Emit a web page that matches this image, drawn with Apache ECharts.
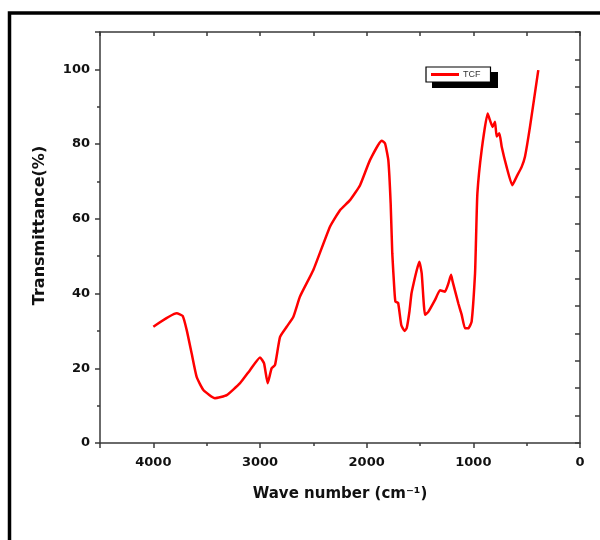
<!DOCTYPE html>
<html>
<head>
<meta charset="utf-8">
<script src="https://cdn.jsdelivr.net/npm/echarts@6/dist/echarts.min.js"></script>
<style>
  html, body { margin: 0; padding: 0; background: #ffffff; }
  #chart { width: 600px; height: 540px; }
</style>
</head>
<body>
<div id="chart"></div>
<script>
// FTIR spectrum of TCF: wave number (cm-1) vs transmittance (%)
const wavenumbers = [
  4000, 3781, 3725, 3687, 3641, 3594, 3531, 3422, 3312, 3187,
  3094, 3000, 2962, 2928, 2891, 2859, 2812, 2750, 2687, 2625,
  2500, 2344, 2250, 2156, 2062, 1969, 1859, 1828, 1797, 1775,
  1760, 1740, 1730, 1705, 1675, 1645, 1625, 1600, 1580, 1560,
  1530, 1506, 1484, 1453, 1422, 1359, 1312, 1266, 1234, 1209,
  1194, 1141, 1109, 1078, 1047, 1016, 984, 975, 962, 922,
  866, 844, 819, 797, 781, 756, 734, 688, 635, 594,
  547, 516, 469, 391
];
const transmittance = [
  31.1, 34.7, 34.0, 30.2, 24.0, 17.7, 14.2, 12.0, 12.8, 16.0,
  19.5, 22.9, 21.3, 16.0, 20.0, 20.9, 28.4, 31.1, 33.8, 39.2,
  46.3, 57.9, 62.3, 65.0, 69.0, 75.7, 80.9, 80.2, 75.7, 64.1,
  50.8, 40.9, 37.8, 37.5, 31.5, 30.0, 30.7, 35.0, 40.0, 42.7,
  46.3, 48.5, 45.4, 34.3, 35.1, 38.3, 40.9, 40.5, 42.7, 45.0,
  43.2, 37.4, 34.3, 30.7, 30.7, 32.5, 45.4, 54.3, 66.8, 78.4,
  88.2, 86.4, 84.6, 86.0, 82.0, 82.9, 79.3, 73.9, 69.0, 71.3,
  73.9, 76.6, 84.6, 99.8
];
const seriesName = 'TCF';

const points = wavenumbers.map((w, i) => [w, transmittance[i]]);

const axisColor = '#3a3a3a';
const labelFont = { fontFamily: 'DejaVu Sans', fontWeight: 'bold', fontSize: 13, color: '#111' };
const plainNumber = v => String(v);

const chart = echarts.init(document.getElementById('chart'), null, { renderer: 'canvas' });

chart.setOption({
  backgroundColor: '#ffffff',
  animation: false,
  grid: { left: 100, right: 20, top: 32, bottom: 97, containLabel: false },
  graphic: [
    {
      // outer frame
      type: 'rect', z: 0, silent: true,
      shape: { x: 9.5, y: 13, width: 700, height: 700 },
      style: { fill: 'none', stroke: '#000', lineWidth: 3.5 }
    },
    {
      // legend drop shadow
      type: 'rect', z: 1, silent: true,
      shape: { x: 432, y: 72, width: 66, height: 16 },
      style: { fill: '#000' }
    }
  ],
  legend: {
    z: 10,
    left: 426, top: 67,
    orient: 'horizontal',
    padding: [3, 10, 3, 5],
    backgroundColor: '#ffffff',
    borderColor: '#000',
    borderWidth: 1.2,
    itemWidth: 28, itemHeight: 3, itemGap: 4,
    icon: 'rect',
    textStyle: { fontFamily: 'Liberation Sans', fontSize: 9, color: '#333', padding: [0, 0, 0, -1] },
    data: [seriesName]
  },
  xAxis: [
    {
      type: 'value', position: 'bottom', inverse: true,
      min: 0, max: 4500, interval: 1000,
      name: 'Wave number (cm\u207B\u00B9)',
      nameLocation: 'middle', nameGap: 44,
      nameTextStyle: { fontFamily: 'DejaVu Sans', fontWeight: 'bold', fontSize: 15, color: '#111' },
      axisLine: { show: true, onZero: false, lineStyle: { color: axisColor, width: 1.5 } },
      axisTick: { show: true, inside: false, length: 5, lineStyle: { color: axisColor, width: 1.5 } },
      minorTick: { show: true, splitNumber: 2, length: 3, lineStyle: { color: axisColor, width: 1.5 } },
      axisLabel: Object.assign({ margin: 13, showMaxLabel: false, formatter: plainNumber }, labelFont),
      splitLine: { show: false }
    },
    {
      type: 'value', position: 'top', inverse: true,
      min: 0, max: 4500, interval: 500,
      axisLine: { show: true, onZero: false, lineStyle: { color: axisColor, width: 1.5 } },
      axisTick: { show: true, inside: true, length: 4, lineStyle: { color: axisColor, width: 1.5 } },
      axisLabel: { show: false },
      splitLine: { show: false }
    }
  ],
  yAxis: [
    {
      type: 'value', position: 'left',
      min: 0, max: 110, interval: 20,
      name: 'Transmittance(%)',
      nameLocation: 'middle', nameGap: 52, nameRotate: 90,
      nameTextStyle: { fontFamily: 'DejaVu Sans', fontWeight: 'bold', fontSize: 16, color: '#111', padding: [0, 0, 0, 24] },
      axisLine: { show: true, onZero: false, lineStyle: { color: axisColor, width: 1.5 } },
      axisTick: { show: true, inside: false, length: 5, lineStyle: { color: axisColor, width: 1.5 } },
      minorTick: { show: true, splitNumber: 2, length: 3, lineStyle: { color: axisColor, width: 1.5 } },
      axisLabel: Object.assign({ margin: 10, showMaxLabel: false, formatter: plainNumber }, labelFont),
      splitLine: { show: false }
    },
    {
      type: 'value', position: 'right',
      min: 0, max: 15, interval: 1,
      axisLine: { show: true, onZero: false, lineStyle: { color: axisColor, width: 1.5 } },
      axisTick: { show: true, inside: true, length: 5, lineStyle: { color: axisColor, width: 1.5 } },
      minorTick: { show: false },
      axisLabel: { show: false },
      splitLine: { show: false }
    }
  ],
  series: [
    {
      name: seriesName,
      type: 'line',
      xAxisIndex: 0, yAxisIndex: 0,
      data: points,
      showSymbol: false,
      symbol: 'none',
      smooth: 0.15,
      lineStyle: { color: '#ff0000', width: 2.5 },
      itemStyle: { color: '#ff0000' },
      z: 5
    }
  ]
});
</script>
</body>
</html>
